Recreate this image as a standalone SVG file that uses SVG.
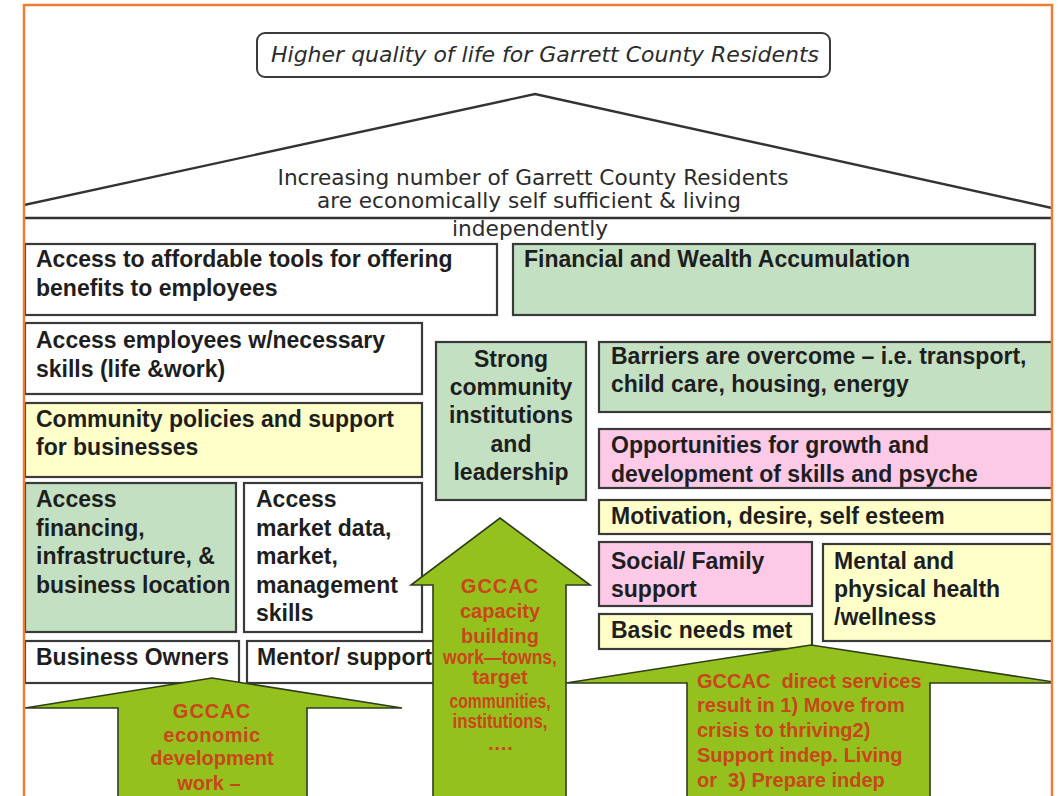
<svg xmlns="http://www.w3.org/2000/svg" width="1061" height="796" viewBox="0 0 1061 796">
  <style>
    .box { stroke: #3a3a3a; stroke-width: 2.2; }
    .white { fill: #ffffff; }
    .green { fill: #c3e0c3; }
    .yellow { fill: #ffffc9; }
    .pink { fill: #fcc9e6; }
    .t { font-family: "Liberation Sans", Arial, sans-serif; font-weight: bold; font-size: 23px; fill: #1e1e1e; }
    .hand { font-family: "DejaVu Sans", "Liberation Sans", sans-serif; fill: #2c2c2c; }
    .arrow { fill: #95c11f; stroke: #2e3d1c; stroke-width: 1.6; stroke-linejoin: miter; }
    .at { font-family: "Liberation Sans", Arial, sans-serif; font-weight: bold; font-size: 20px; fill: #c9461a; white-space: pre; }
    .roof { fill: none; stroke: #333333; stroke-width: 2.4; }
  </style>
  <defs>
    <clipPath id="frame">
      <rect x="24" y="5" width="1028" height="800"/>
    </clipPath>
  </defs>

  <rect width="1061" height="796" fill="#ffffff"/>

  <g clip-path="url(#frame)">
    <!-- roof -->
    <g id="roof">
      <polyline class="roof" points="24,205 535,94 1052,208"/>
      <line class="roof" x1="24" y1="218" x2="1052" y2="218" stroke-width="2.8"/>
      <text class="hand" font-size="21" text-anchor="middle" x="533" y="185" textLength="511" lengthAdjust="spacingAndGlyphs">Increasing number of Garrett County Residents</text>
      <text class="hand" font-size="21" text-anchor="middle" x="529" y="208" textLength="424" lengthAdjust="spacingAndGlyphs">are economically self sufficient &amp; living</text>
      <text class="hand" font-size="21" text-anchor="middle" x="530" y="236" textLength="156" lengthAdjust="spacingAndGlyphs">independently</text>
    </g>

    <!-- goal -->
    <g id="goal">
      <rect x="257" y="33" width="573" height="44" rx="8" fill="#ffffff" stroke="#3a3a3a" stroke-width="2"/>
      <text class="hand" font-size="22" font-style="italic" x="271" y="62" textLength="548" lengthAdjust="spacingAndGlyphs">Higher quality of life for Garrett County Residents</text>
    </g>

    <!-- business column -->
    <g id="affordable-tools">
      <rect class="box white" x="25" y="244" width="472" height="71"/>
      <text class="t" x="36" y="267">Access to affordable tools for offering</text>
      <text class="t" x="36" y="296">benefits to employees</text>
    </g>
    <g id="wealth">
      <rect class="box green" x="513" y="244" width="522" height="71"/>
      <text class="t" x="524" y="267">Financial and Wealth Accumulation</text>
    </g>
    <g id="employees">
      <rect class="box white" x="25" y="323" width="397" height="71"/>
      <text class="t" x="36" y="348">Access employees w/necessary</text>
      <text class="t" x="36" y="377">skills (life &amp;work)</text>
    </g>
    <g id="policies">
      <rect class="box yellow" x="25" y="403" width="397" height="74"/>
      <text class="t" x="36" y="427">Community policies and support</text>
      <text class="t" x="36" y="455">for businesses</text>
    </g>
    <g id="financing">
      <rect class="box green" x="25" y="483" width="211" height="149"/>
      <text class="t" x="36" y="507">Access</text>
      <text class="t" x="36" y="536">financing,</text>
      <text class="t" x="36" y="564">infrastructure, &amp;</text>
      <text class="t" x="36" y="593">business location</text>
    </g>
    <g id="market">
      <rect class="box white" x="244" y="483" width="178" height="149"/>
      <text class="t" x="256" y="507">Access</text>
      <text class="t" x="256" y="536">market data,</text>
      <text class="t" x="256" y="564">market,</text>
      <text class="t" x="256" y="593">management</text>
      <text class="t" x="256" y="621">skills</text>
    </g>
    <g id="owners">
      <rect class="box white" x="25" y="641" width="214" height="42"/>
      <text class="t" x="36" y="665">Business Owners</text>
    </g>
    <g id="mentor">
      <rect class="box white" x="247" y="641" width="200" height="42"/>
      <text class="t" x="257" y="665">Mentor/ support</text>
    </g>

    <!-- community column -->
    <g id="institutions">
      <rect class="box green" x="436" y="342" width="150" height="158"/>
      <text class="t" text-anchor="middle" x="511" y="367">Strong</text>
      <text class="t" text-anchor="middle" x="511" y="395">community</text>
      <text class="t" text-anchor="middle" x="511" y="423">institutions</text>
      <text class="t" text-anchor="middle" x="511" y="452">and</text>
      <text class="t" text-anchor="middle" x="511" y="480">leadership</text>
    </g>

    <!-- residents column -->
    <g id="barriers">
      <rect class="box green" x="599" y="342" width="460" height="70"/>
      <text class="t" x="611" y="364">Barriers are overcome – i.e. transport,</text>
      <text class="t" x="611" y="392">child care, housing, energy</text>
    </g>
    <g id="opportunities">
      <rect class="box pink" x="599" y="429" width="460" height="59"/>
      <text class="t" x="611" y="453">Opportunities for growth and</text>
      <text class="t" x="611" y="482">development of skills and psyche</text>
    </g>
    <g id="motivation">
      <rect class="box yellow" x="599" y="500" width="460" height="34"/>
      <text class="t" x="611" y="524">Motivation, desire, self esteem</text>
    </g>
    <g id="social">
      <rect class="box pink" x="599" y="542" width="213" height="64"/>
      <text class="t" x="611" y="569">Social/ Family</text>
      <text class="t" x="611" y="597">support</text>
    </g>
    <g id="health">
      <rect class="box yellow" x="823" y="544" width="236" height="97"/>
      <text class="t" x="834" y="569">Mental and</text>
      <text class="t" x="834" y="597">physical health</text>
      <text class="t" x="834" y="625">/wellness</text>
    </g>
    <g id="basic-needs">
      <rect class="box yellow" x="599" y="614" width="213" height="35"/>
      <text class="t" x="611" y="638">Basic needs met</text>
    </g>

    <!-- GCCAC work arrows -->
    <g id="connectors">
      <g id="arrow-direct">
        <polygon class="arrow" points="811,645 1060,683 930,683 930,800 687,800 687,683 566,683"/>
        <text class="at" x="697" y="688">GCCAC  direct services</text>
        <text class="at" x="697" y="712">result in 1) Move from</text>
        <text class="at" x="697" y="737">crisis to thriving2)</text>
        <text class="at" x="697" y="762">Support indep. Living</text>
        <text class="at" x="697" y="787">or  3) Prepare indep</text>
      </g>
      <g id="arrow-capacity">
        <polygon class="arrow" points="500,518 590,585 566,585 566,800 433,800 433,585 411,585"/>
        <text class="at" text-anchor="middle" x="500" y="593" letter-spacing="1">GCCAC</text>
        <text class="at" text-anchor="middle" x="500" y="618">capacity</text>
        <text class="at" text-anchor="middle" x="500" y="643">building</text>
        <text class="at" text-anchor="middle" x="500" y="664" font-size="16" textLength="114" lengthAdjust="spacingAndGlyphs">work—towns,</text>
        <text class="at" text-anchor="middle" x="500" y="684" font-size="16">target</text>
        <text class="at" text-anchor="middle" x="500" y="708" font-size="15" textLength="101" lengthAdjust="spacingAndGlyphs">communities,</text>
        <text class="at" text-anchor="middle" x="500" y="728" font-size="15" textLength="95" lengthAdjust="spacingAndGlyphs">institutions,</text>
        <text class="at" text-anchor="middle" x="500" y="750" font-size="14">….</text>
      </g>
      <g id="arrow-economic">
        <polygon class="arrow" points="212,678 402,708 307,708 307,800 118,800 118,708 25,708"/>
        <text class="at" text-anchor="middle" x="212" y="718" letter-spacing="1">GCCAC</text>
        <text class="at" text-anchor="middle" x="212" y="742" letter-spacing="0.5">economic</text>
        <text class="at" text-anchor="middle" x="212" y="765">development</text>
        <text class="at" text-anchor="middle" x="209" y="790">work –</text>
      </g>
    </g>
  </g>

  <!-- page frame -->
  <polyline points="24,800 24,5 1052,5 1052,800" fill="none" stroke="#ed7d31" stroke-width="2.5"/>
</svg>
